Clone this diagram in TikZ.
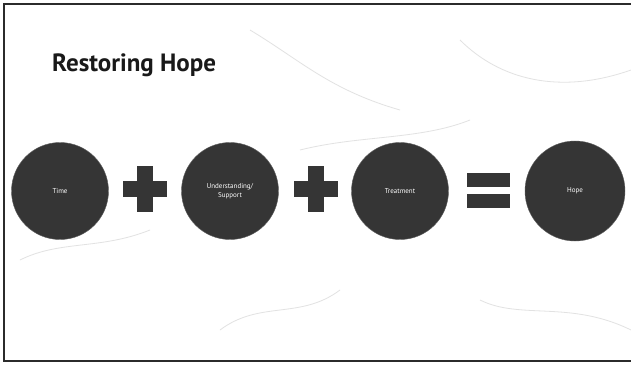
\documentclass[tikz,border=0pt]{standalone}
\usepackage{fontspec}
\setmainfont{PT Sans}
\usepackage{tikz}
\usetikzlibrary{shapes,positioning,calc}
\definecolor{hopedark}{HTML}{353535}
\definecolor{hopeframe}{HTML}{2B2B2B}
\definecolor{hopevein}{HTML}{E2E2E2}
\tikzstyle{disc} = [circle, fill=hopedark, draw=hopedark!80, minimum size=97pt, inner sep=0pt,
    text=white, align=center, font=\fontsize{7}{8.5}\selectfont]
\tikzstyle{bar} = [rectangle, fill=hopedark, inner sep=0pt]
\tikzstyle{vein} = [hopevein, line width=0.8pt]

\begin{document}
\begin{tikzpicture}[x=1pt, y=-1pt]
\useasboundingbox (0,0) rectangle (631,364);
\clip (0,0) rectangle (631,364);
\fill[white] (0,0) rectangle (631,364);

% faint marble veins
\draw[vein] (250,30) .. controls (300,60) and (330,90) .. (400,110);
\draw[vein] (460,40) .. controls (500,80) and (560,95) .. (631,70);
\draw[vein] (300,150) .. controls (360,135) and (420,140) .. (470,120);
\draw[vein] (20,260) .. controls (60,240) and (100,250) .. (150,230);
\draw[vein] (480,300) .. controls (520,320) and (570,300) .. (631,330);
\draw[vein] (220,330) .. controls (260,300) and (300,320) .. (340,290);

% frame
\draw[hopeframe, line width=2pt] (4,4) rectangle (660,361);

% title
\node[anchor=base west, inner sep=0pt, font=\fontsize{25}{28}\selectfont\bfseries, text=black!90] (title) at (52,71) {Restoring Hope};

% terms
\node[disc] (time) at (60,191) {Time};
\node[disc] (support) at (230,191) {Understanding/\\Support};
\node[disc] (treatment) at (400,191) {Treatment};
\node[disc, minimum size=100pt] (hope) at (575,191) {Hope};

% operators
\node[bar, minimum width=44pt, minimum height=16pt] (plusAh) at (145,189) {};
\node[bar, minimum width=16pt, minimum height=46pt] (plusAv) at (145,189) {};
\node[bar, minimum width=44pt, minimum height=16pt] (plusBh) at (316,189) {};
\node[bar, minimum width=16pt, minimum height=46pt] (plusBv) at (316,189) {};
\node[bar, minimum width=43pt, minimum height=14pt] (eqtop) at (488,180) {};
\node[bar, minimum width=43pt, minimum height=14pt] (eqbot) at (488,201) {};
\end{tikzpicture}
\end{document}
